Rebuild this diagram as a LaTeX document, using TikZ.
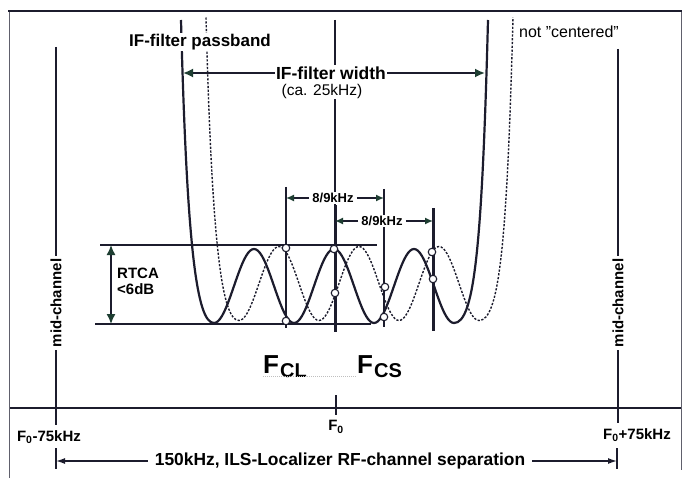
\documentclass[tikz,border=0pt]{standalone}
\usepackage{fontspec}
\setmainfont{Liberation Sans}
\usepackage{tikz}
\usetikzlibrary{arrows.meta}
\definecolor{ink}{RGB}{28,28,45}
\definecolor{tipgreen}{RGB}{30,62,50}
\tikzset{
bigtext/.style={font=\bfseries\fontsize{17}{19}\selectfont,inner sep=1pt,fill=white},
normtext/.style={font=\fontsize{15.5}{18}\selectfont,inner sep=1pt,fill=white},
midtext/.style={font=\bfseries\fontsize{15}{16}\selectfont,inner sep=1pt},
smalltext/.style={font=\bfseries\fontsize{13}{15}\selectfont,inner xsep=3pt,inner ysep=1pt,fill=white},
marker/.style={ink,line width=2.6pt},
thinline/.style={ink,line width=1.4pt},
ring/.style={circle,draw=ink,fill=white,line width=1.1pt,inner sep=0pt,minimum size=7.5pt},
solidcurve/.style={ink,line width=2.2pt},
dashcurve/.style={ink,line width=1.4pt,dash pattern=on 2.2pt off 1.6pt},
arrow/.style={-{Latex[length=10pt,width=9pt,color=tipgreen]},ink,line width=1.8pt},
smallarrow/.style={-{Latex[length=8pt,width=7pt,color=tipgreen]},ink,line width=1.5pt},
dblarrow/.style={{Latex[length=10pt,width=9pt,color=tipgreen]}-{Latex[length=10pt,width=9pt,color=tipgreen]},ink,line width=1.5pt},
separrow/.style={-{Latex[length=9pt,width=6pt,color=ink]},ink,line width=1.4pt}
}

\begin{document}
\begin{tikzpicture}[x=1pt,y=-1pt]
\useasboundingbox[fill=white] (0,0) rectangle (683,484);
% frame
\draw[ink!70,line width=0.8pt] (9,478) -- (9,11);
\draw[ink!70,line width=0.8pt] (681,11) -- (681,470);
\draw[ink,line width=2.2pt] (8,11) -- (682,11);
% filter passband, centered and shifted
\foreach \cstyle/\dx/\dy in {solidcurve/0/0,dashcurve/25/2.5}
  \draw[\cstyle,shift={(\dx pt,\dy pt)}] (181,20) .. controls (187,250) and (197,323) .. (214,323)
    -- plot[domain=214:454,samples=121] (\x,{286-37*cos(4.5*(\x-334))})
    .. controls (474,323) and (482,250) .. (488,20);
% ripple limits
\coordinate (rt) at (111,245);
\coordinate (rb) at (111,324);
\draw[ink,line width=1.8pt] (100,245) -- (377,245);
\draw[ink,line width=1.8pt] (95,324) -- (371,324);
% markers
\coordinate (ctop) at (335,20);
\coordinate (cmid) at (335,205);
\coordinate (cbot) at (335,332);
\draw[marker] (286,187) -- (286,328);
\draw[marker,line width=3pt] (cmid) -- (cbot);
\draw[marker] (384,189) -- (384,327);
\draw[marker,line width=3pt] (433,208) -- (433,331);
\foreach \x/\y [count=\i] in {286/248,286/321,334/249,335/293,385/287,384/317,432/252,433/279}
  \node[ring] (c\i) at (\x,\y) {};
% channel axis
\coordinate (al) at (10,408);
\coordinate (ar) at (681,408);
\draw[ink,line width=1.8pt] (al) -- (ar);
\draw[ink,line width=2pt] (336,395) -- (336,415);
\draw[ink,line width=1.6pt] (56,448) -- (56,469);
\draw[ink,line width=1.6pt] (617,448) -- (617,469);
% mid-channel
\node[midtext,rotate=90,inner sep=3pt] (mcl) at (56,303) {mid-channel};
\node[midtext,rotate=90,inner sep=3pt] (mcr) at (618,303) {mid-channel};
\draw[thinline] (56,47) -- (mcl);
\draw[thinline] (mcl) -- (56,425);
\draw[thinline] (618,49) -- (mcr);
\draw[thinline] (mcr) -- (618,423);
% labels
\node[bigtext] (pb) at (200,42) {IF-filter passband};
\node[bigtext,font=\bfseries\fontsize{17.5}{19}\selectfont] (ifw) at (331,73) {IF-filter width};
\node[normtext] (ca) at (322,91) {(ca. 25kHz)};
\node[normtext,fill=none,font=\fontsize{16}{18}\selectfont] (nc) at (569,32) {not {\char34}centered{\char34}};
\draw[thinline] (ctop) -- (ctop |- ifw.north);
\draw[thinline] (cmid |- ca.south) -- (cmid);
\coordinate (wl) at (183,73);
\coordinate (wr) at (485,73);
\draw[arrow] (ifw) -- (wl);
\draw[arrow] (ifw) -- (wr);
\node[smalltext] (s1) at (333,198) {8/9kHz};
\node[smalltext] (s2) at (382,221) {8/9kHz};
\coordinate (s1l) at (286,198);
\coordinate (s1r) at (384,198);
\coordinate (s2l) at (335,221);
\coordinate (s2r) at (433,221);
\draw[smallarrow] (s1) -- (s1l);
\draw[smallarrow] (s1) -- (s1r);
\draw[smallarrow] (s2) -- (s2l);
\draw[smallarrow] (s2) -- (s2r);
\draw[dblarrow] (rt) -- (rb);
\node[midtext,anchor=west,align=left] (rtca) at (116,281) {RTCA\\<6dB};
\node[anchor=base west,inner sep=0pt,font=\bfseries] (fcl) at (263,373)
  {\fontsize{26}{26}\selectfont F\kern1pt\raisebox{-4pt}{\fontsize{20}{20}\selectfont CL}};
\node[anchor=base west,inner sep=0pt,font=\bfseries] (fcs) at (357,373)
  {\fontsize{26}{26}\selectfont F\kern1pt\raisebox{-4pt}{\fontsize{20}{20}\selectfont CS}};
\draw[gray!50,densely dotted,line width=1pt] ([yshift=-3pt]fcl.base west) -- ([yshift=-3pt]fcs.base west);
\node[midtext] (f0) at (336,427) {F\textsubscript{0}};
\node[midtext] (fm) at (49,437) {F\textsubscript{0}-75kHz};
\node[midtext] (fp) at (637,435) {F\textsubscript{0}+75kHz};
\node[bigtext,font=\bfseries\fontsize{17.4}{19}\selectfont,inner xsep=7pt] (sep) at (340,461)
  {150kHz, ILS-Localizer RF-channel separation};
\coordinate (sl) at (56,461);
\coordinate (sr) at (617,461);
\draw[separrow] (sep) -- (sl);
\draw[separrow] (sep) -- (sr);
\end{tikzpicture}
\end{document}
